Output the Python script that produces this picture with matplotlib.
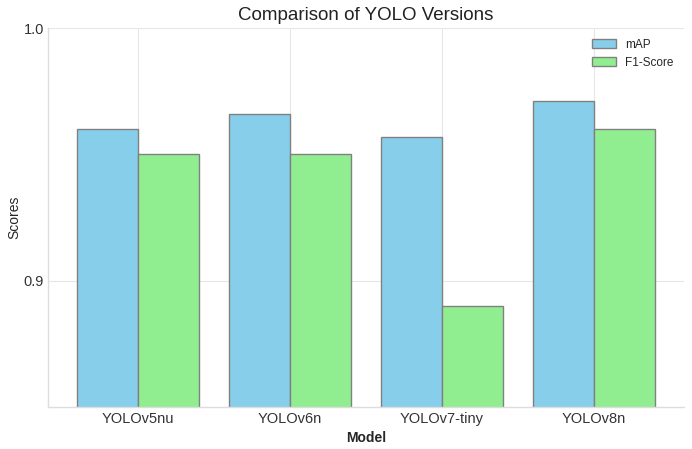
import matplotlib
matplotlib.use("Agg")
import matplotlib.pyplot as plt
import numpy as np

models = ["YOLOv5nu", "YOLOv6n", "YOLOv7-tiny", "YOLOv8n"]
map_scores = [0.960, 0.966, 0.957, 0.971]
f1_scores = [0.950, 0.950, 0.890, 0.960]

plt.style.use("seaborn-v0_8-whitegrid")
plt.rcParams['font.family'] = ['Liberation Sans', 'DejaVu Sans']

fig = plt.figure(figsize=(6.92, 4.49), dpi=100)
ax = fig.add_axes([48/692, 1-407/449, (684-48)/692, (407-28)/449])

x = np.arange(len(models))
w = 0.4
ax.bar(x - w/2, map_scores, w, label="mAP", color="skyblue", edgecolor="grey")
ax.bar(x + w/2, f1_scores, w, label="F1-Score", color="lightgreen", edgecolor="grey")

ax.set_ylim(0.85, 1.0)
ax.set_yticks([0.9, 1.0])
ax.set_xticks(x)
ax.set_xticklabels(models, fontsize=10.5)
ax.tick_params(axis='y', labelsize=10.5, colors="#333333", pad=3)
ax.tick_params(axis='x', colors="#333333")
ax.set_xlabel("Model", fontweight="bold", fontsize=10)
ax.set_ylabel("Scores", fontsize=10)
ax.yaxis.set_label_coords(-0.042, 0.5)
ax.set_title("Comparison of YOLO Versions", fontsize=13.5, color="#222222")
ax.grid(color="#e6e6e6", linewidth=0.8)
ax.legend(loc="upper right", fontsize=8.5)
for s in ["top", "right"]:
    ax.spines[s].set_visible(False)
for s in ["left", "bottom"]:
    ax.spines[s].set_visible(True)
    ax.spines[s].set_color("#dddddd")

fig.savefig("out.png", dpi=100)
